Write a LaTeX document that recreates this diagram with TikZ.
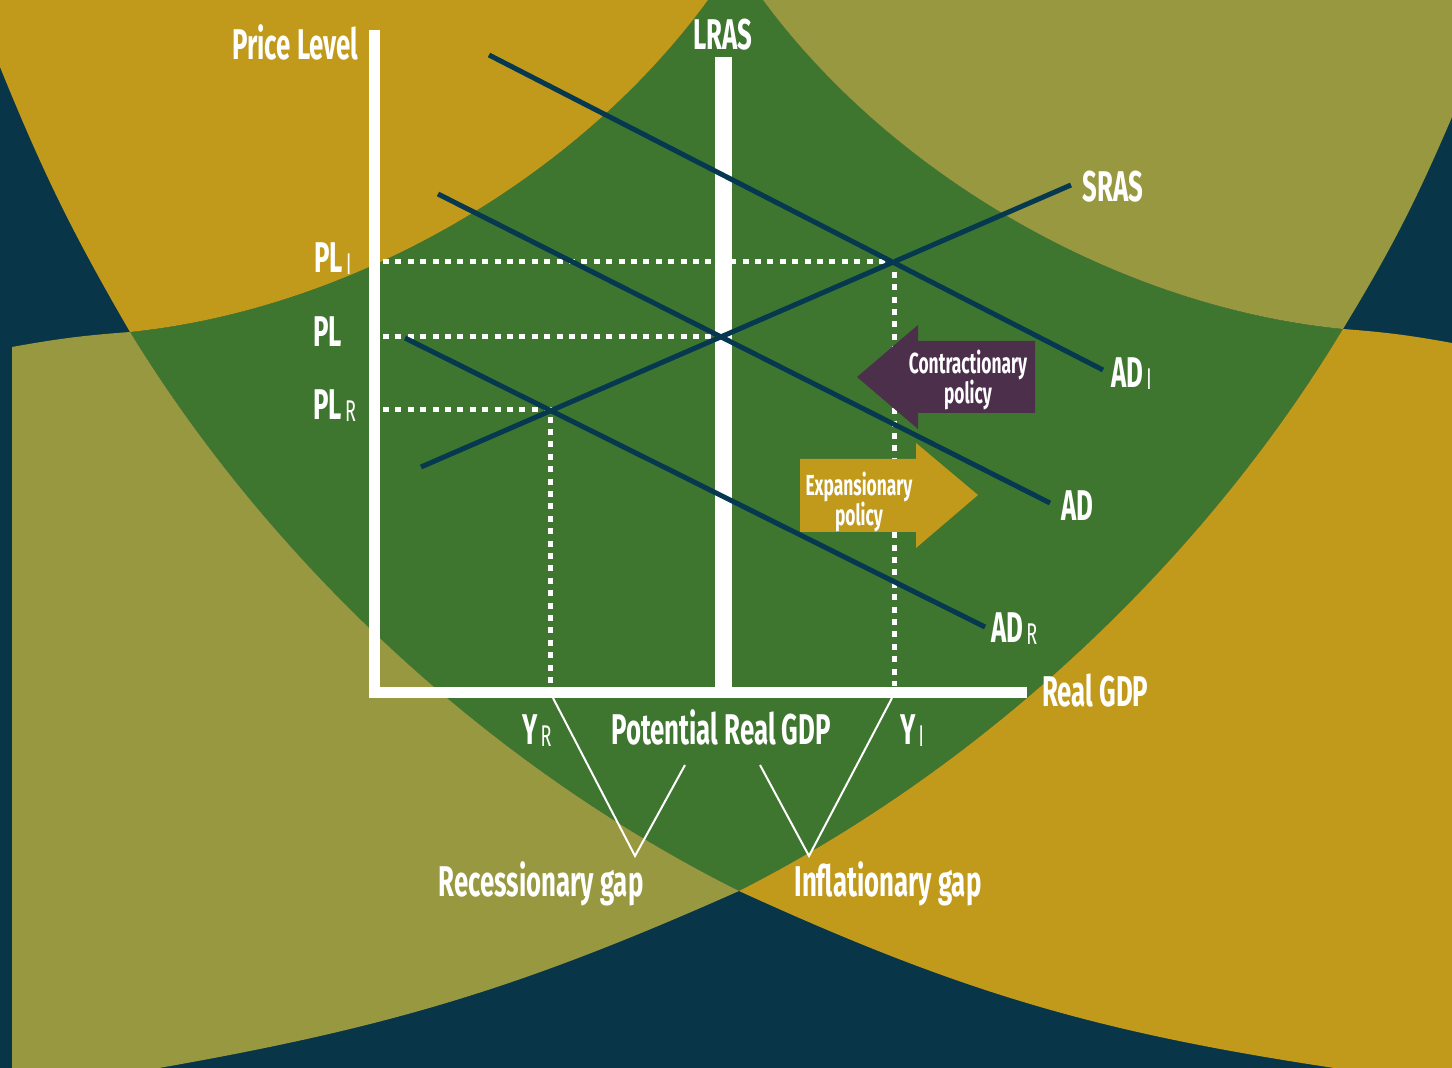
\documentclass[tikz,border=0pt]{standalone}
\usepackage{fontspec}
\setmainfont{Fira Sans}[FakeStretch=0.6]
\definecolor{deepnavy}{HTML}{083548}
\definecolor{curvenavy}{HTML}{06384F}
\definecolor{mustard}{HTML}{C19A1B}
\definecolor{olive}{HTML}{989840}
\definecolor{leaf}{HTML}{3E7630}
\definecolor{plum}{HTML}{4B2F4B}
\tikzset{
  lab/.style={text=white, inner sep=0pt, font=\fontsize{21.5}{24}\selectfont\bfseries},
  tag/.style={text=white, inner sep=0pt, align=center, font=\fontsize{14.5}{15}\selectfont\bfseries},
  curve/.style={draw=curvenavy, line width=2.5pt},
  dots/.style={draw=white, line width=2.5pt, dash pattern=on 3pt off 3.2pt},
  gapline/.style={draw=white, line width=1pt},
  arcfit/.style={looseness=0.85},
}
\newcommand{\lowtag}[1]{\kern1.5pt\raisebox{-1pt}{\fontsize{15}{15}\selectfont\mdseries #1}}

\begin{document}
\begin{tikzpicture}[x=0.5pt, y=-0.5pt]
  % backdrop and the big colour fields
  \fill[deepnavy] (0,0) rectangle (1452,1068);
  \fill[leaf] (708,0) -- (763,0) to[bend right=24, arcfit] (1343,329)
    to[bend left=16, arcfit] (739,891) to[bend left=16, arcfit] (130,332)
    to[bend right=24, arcfit] (708,0) -- cycle;
  \fill[mustard] (0,0) -- (708,0) to[bend left=24, arcfit] (130,332)
    to[bend left=4] (0,67) -- cycle;
  \fill[olive] (763,0) -- (1452,0) -- (1452,117) to[bend left=4] (1343,329)
    to[bend left=24, arcfit] (763,0) -- cycle;
  \fill[olive] (12,1068) -- (12,347) to[bend left=3] (130,332)
    to[bend right=16, arcfit] (739,891) to[bend left=7] (159,1068) -- cycle;
  \fill[mustard] (1343,329) to[bend left=3] (1452,343) -- (1452,1068) -- (1334,1068)
    to[bend left=8] (739,891) to[bend right=16, arcfit] (1343,329) -- cycle;

  % axes and equilibrium points
  \coordinate (ytop) at (374,30);
  \coordinate (O) at (374,693);
  \coordinate (xend) at (1027,693);
  \coordinate (yin) at (383,0);
  \coordinate (xin) at (0,686);
  \coordinate (eI) at (894,262);
  \coordinate (e0) at (722,337);
  \coordinate (eR) at (550,410);
  \draw[dots] (eI -| yin) -- (eI) -- (eI |- xin);
  \draw[dots] (e0 -| yin) -- (e0);
  \draw[dots] (eR -| yin) -- (eR) -- (eR |- xin);
  \coordinate (lrastop) at (723,57);
  \draw[white, line width=8.5pt] (lrastop) -- (lrastop |- O);
  \draw[white, line width=5.5pt] (ytop) -- (O) -- (xend);

  % policy arrows
  \fill[plum] (1035,341) -- (918,341) -- (918,325) -- (857,377) -- (918,429) -- (918,413) -- (1035,413) -- cycle;
  \fill[mustard] (800,459) -- (916,459) -- (916,443) -- (978,495) -- (916,548) -- (916,532) -- (800,532) -- cycle;
  \node[tag] (contr) at (968,380) {Contractionary\\policy};
  \node[tag] (expan) at (859,502) {Expansionary\\policy};

  % AD and SRAS lines
  \coordinate (adI-s) at (489,55);   \coordinate (adI-e) at (1103,370);
  \coordinate (ad-s) at (438,194);   \coordinate (ad-e) at (1050,503);
  \coordinate (adR-s) at (405,338);  \coordinate (adR-e) at (985,627);
  \coordinate (sras-s) at (421,467); \coordinate (sras-e) at (1071,185);
  \draw[curve] (adI-s) -- (adI-e);
  \draw[curve] (ad-s) -- (ad-e);
  \draw[curve] (adR-s) -- (adR-e);
  \draw[curve] (sras-s) -- (sras-e);

  % axis and line labels
  \node[lab, anchor=base east] (pricelab) at (359,60) {Price Level};
  \node[lab, anchor=base] (lraslab) at (723,50) {LRAS};
  \node[lab, anchor=base west] (sraslab) at (1082,202) {SRAS};
  \node[lab, anchor=base west] (pli) at (314,273) {PL\lowtag{I}};
  \node[lab, anchor=base west] (pl0) at (313,347) {PL};
  \node[lab, anchor=base west] (plr) at (313,420) {PL\lowtag{R}};
  \node[lab, anchor=base west] (adilab) at (1111,388) {AD\lowtag{I}};
  \node[lab, anchor=base west] (adlab) at (1061,521) {AD};
  \node[lab, anchor=base west] (adrlab) at (991,643) {AD\lowtag{R}};
  \node[lab, anchor=base west] (gdplab) at (1042,707) {Real GDP};
  \node[lab, anchor=base west] (yrlab) at (522,745) {Y\lowtag{R}};
  \node[lab, anchor=base] (potlab) at (721,745) {Potential Real GDP};
  \node[lab, anchor=base west] (yilab) at (900,745) {Y\lowtag{I}};
  \node[lab, anchor=base] (recgap) at (541,897) {Recessionary gap};
  \node[lab, anchor=base] (infgap) at (888,897) {Inflationary gap};

  % gap brackets
  \coordinate (yrfoot) at (553,698); \coordinate (recv) at (635,856); \coordinate (recr) at (685,765);
  \coordinate (infl) at (760,765);   \coordinate (infv) at (809,856); \coordinate (yifoot) at (892,698);
  \draw[gapline] (yrfoot) -- (recv) -- (recr);
  \draw[gapline] (infl) -- (infv) -- (yifoot);
\end{tikzpicture}
\end{document}
